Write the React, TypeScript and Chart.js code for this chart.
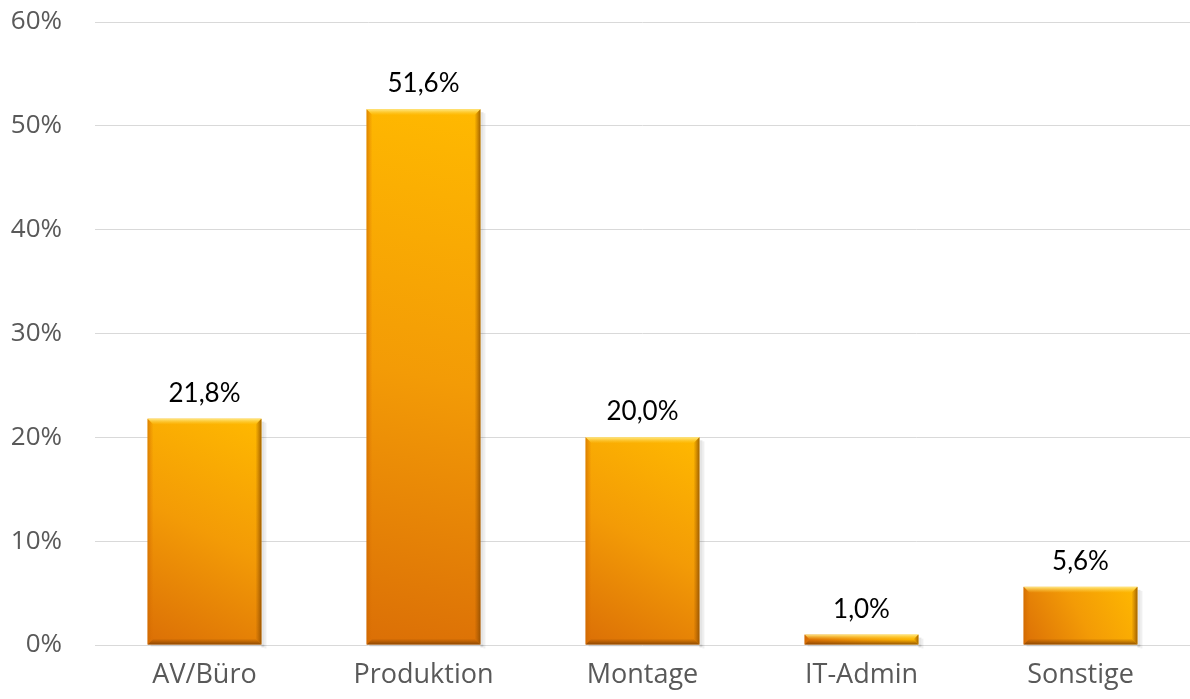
import React, { useEffect, useRef } from "react";
import { Chart, registerables } from "chart.js";

Chart.register(...registerables);

const categories = ["AV/Büro", "Produktion", "Montage", "IT-Admin", "Sonstige"];
const values = [21.8, 51.6, 20.0, 1.0, 5.6];
const valueLabels = ["21,8%", "51,6%", "20,0%", "1,0%", "5,6%"];
const yMax = 60;
const yStep = 10;

const barStylePlugin = {
  id: "barStyle",
  afterDatasetsDraw(chart: any) {
    const ctx = chart.ctx as CanvasRenderingContext2D;
    const meta = chart.getDatasetMeta(0);
    meta.data.forEach((bar: any) => {
      const w = bar.width;
      const left = bar.x - w / 2;
      const right = bar.x + w / 2;
      const top = bar.y;
      const bottom = bar.base;
      const h = bottom - top;
      ctx.save();
      // drop shadow
      ctx.fillStyle = "rgba(0,0,0,0.10)";
      ctx.fillRect(right, top + 3, 3, h);
      ctx.fillStyle = "rgba(0,0,0,0.06)";
      ctx.fillRect(right + 3, top + 4, 2, h);
      ctx.fillStyle = "rgba(0,0,0,0.08)";
      ctx.fillRect(left + 3, bottom, w, 2);
      // body gradient
      const g = ctx.createLinearGradient(left, bottom, right, top);
      g.addColorStop(0, "#DB6F06");
      g.addColorStop(0.5, "#F39B06");
      g.addColorStop(1, "#FFB900");
      ctx.fillStyle = g;
      ctx.fillRect(left, top, w, h);
      const b = Math.min(6, h / 2);
      // top bevel (light)
      const gt = ctx.createLinearGradient(0, top, 0, top + b);
      gt.addColorStop(0, "rgba(255,235,140,0.95)");
      gt.addColorStop(1, "rgba(255,210,60,0.0)");
      ctx.fillStyle = gt;
      ctx.beginPath();
      ctx.moveTo(left, top);
      ctx.lineTo(right, top);
      ctx.lineTo(right - b, top + b);
      ctx.lineTo(left + b, top + b);
      ctx.closePath();
      ctx.fill();
      // right bevel (dark)
      const gr = ctx.createLinearGradient(right - b, 0, right, 0);
      gr.addColorStop(0, "rgba(150,80,0,0.0)");
      gr.addColorStop(1, "rgba(130,70,0,0.75)");
      ctx.fillStyle = gr;
      ctx.beginPath();
      ctx.moveTo(right, top);
      ctx.lineTo(right, bottom);
      ctx.lineTo(right - b, bottom - b);
      ctx.lineTo(right - b, top + b);
      ctx.closePath();
      ctx.fill();
      // bottom bevel (dark)
      const gb = ctx.createLinearGradient(0, bottom - b, 0, bottom);
      gb.addColorStop(0, "rgba(140,70,0,0.0)");
      gb.addColorStop(1, "rgba(120,60,0,0.8)");
      ctx.fillStyle = gb;
      ctx.beginPath();
      ctx.moveTo(left, bottom);
      ctx.lineTo(right, bottom);
      ctx.lineTo(right - b, bottom - b);
      ctx.lineTo(left + b, bottom - b);
      ctx.closePath();
      ctx.fill();
      // left bevel (slight)
      const gl = ctx.createLinearGradient(left, 0, left + b, 0);
      gl.addColorStop(0, "rgba(200,100,0,0.6)");
      gl.addColorStop(1, "rgba(220,110,0,0.0)");
      ctx.fillStyle = gl;
      ctx.beginPath();
      ctx.moveTo(left, top);
      ctx.lineTo(left + b, top + b);
      ctx.lineTo(left + b, bottom - b);
      ctx.lineTo(left, bottom);
      ctx.closePath();
      ctx.fill();
      ctx.restore();
    });
    // value labels
    ctx.save();
    ctx.font = "26px Lato, 'Noto Sans', sans-serif";
    ctx.fillStyle = "#000000";
    ctx.textAlign = "center";
    ctx.textBaseline = "alphabetic";
    meta.data.forEach((bar: any, i: number) => {
      ctx.fillText(valueLabels[i], bar.x, bar.y - 17);
    });
    ctx.restore();
  },
};

export default function App() {
  const canvasRef = useRef<HTMLCanvasElement>(null);
  useEffect(() => {
    document.body.style.margin = "0";
    const chart = new Chart(canvasRef.current as HTMLCanvasElement, {
      type: "bar",
      data: {
        labels: categories,
        datasets: [
          {
            data: values,
            backgroundColor: "rgba(0,0,0,0)",
            borderWidth: 0,
            categoryPercentage: 1,
            barPercentage: 0.52,
          },
        ],
      },
      options: {
        animation: false,
        responsive: true,
        maintainAspectRatio: false,
        layout: { padding: { top: 22, right: -6, left: 0, bottom: 0 } },
        plugins: { legend: { display: false }, tooltip: { enabled: false } },
        scales: {
          x: {
            grid: { display: false, drawTicks: false },
            border: { display: false },
            ticks: {
              color: "#595959",
              font: { family: "'Open Sans', sans-serif", size: 27 },
              padding: 14,
              maxRotation: 0,
            },
            afterFit(scale: any) {
              scale.height = 54;
              scale.paddingLeft = 0;
              scale.paddingRight = 0;
            },
          },
          y: {
            min: 0,
            max: yMax,
            grid: { color: "#D9D9D9", lineWidth: 1, drawTicks: false },
            border: { display: false },
            ticks: {
              stepSize: yStep,
              color: "#595959",
              font: { family: "'Open Sans', sans-serif", size: 26 },
              padding: 33,
              callback: (v: any) => `${v}%`,
            },
            afterFit(scale: any) {
              scale.width = 95;
              scale.paddingTop = 0;
              scale.paddingBottom = 0;
            },
          },
        },
      },
      plugins: [barStylePlugin],
    });
    return () => chart.destroy();
  }, []);
  return (
    <div style={{ width: 1190, height: 699, position: "relative" }}>
      <canvas ref={canvasRef} />
    </div>
  );
}
